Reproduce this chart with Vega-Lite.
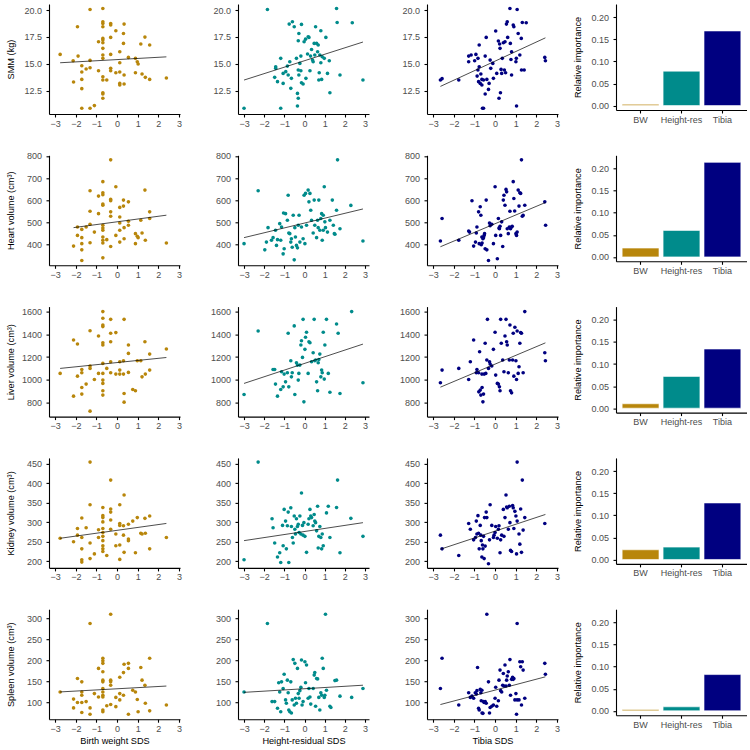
{
"$schema":"https://vega.github.io/schema/vega-lite/v6.json",
"background":"white",
"padding":{"left":5,"top":4,"right":0,"bottom":0},
"config":{"font":"Liberation Sans","view":{"stroke":null},
"axis":{"domainColor":"#000","domainWidth":1.1,"tickColor":"#000","tickWidth":1.1,"tickSize":3,"labelColor":"#4D4D4D","labelFontSize":9,"titleFontSize":9.2,"titleFontWeight":"normal","titleColor":"#000","grid":false,"labelFont":"Liberation Sans","titleFont":"Liberation Sans"},
"axisX":{"labelPadding":2,"titlePadding":3,"labelFlush":false},
"axisY":{"labelPadding":4.5}},
"datasets":{
"S1":[{"x":-2.76,"y":15.88},{"x":-2.11,"y":13.31},{"x":-2.13,"y":15.29},{"x":-1.92,"y":18.45},{"x":-1.89,"y":15.72},{"x":-1.71,"y":14.82},{"x":-1.71,"y":14.24},{"x":-1.71,"y":13.55},{"x":-1.71,"y":12.69},{"x":-1.71,"y":10.86},{"x":-1.5,"y":14.52},{"x":-1.31,"y":20.06},{"x":-1.31,"y":15.32},{"x":-1.31,"y":14.64},{"x":-1.31,"y":10.86},{"x":-1.1,"y":11.11},{"x":-0.9,"y":14.36},{"x":-0.9,"y":17.06},{"x":-0.69,"y":20.15},{"x":-0.69,"y":18.92},{"x":-0.69,"y":18.76},{"x":-0.69,"y":18.45},{"x":-0.69,"y":17.37},{"x":-0.69,"y":17.21},{"x":-0.69,"y":16.96},{"x":-0.69,"y":16.44},{"x":-0.69,"y":15.82},{"x":-0.69,"y":15.51},{"x":-0.69,"y":13.8},{"x":-0.69,"y":13.49},{"x":-0.69,"y":12.31},{"x":-0.69,"y":12.19},{"x":-0.69,"y":11.79},{"x":-0.5,"y":13.49},{"x":-0.31,"y":18.76},{"x":-0.31,"y":18.61},{"x":-0.31,"y":17.46},{"x":-0.31,"y":15.88},{"x":-0.31,"y":14.58},{"x":-0.31,"y":14.36},{"x":-0.06,"y":18.08},{"x":-0.06,"y":14.17},{"x":0.13,"y":16.13},{"x":0.13,"y":15.1},{"x":0.13,"y":14.24},{"x":0.13,"y":13.18},{"x":0.13,"y":13.03},{"x":0.31,"y":16.9},{"x":0.31,"y":17.83},{"x":0.34,"y":18.7},{"x":0.34,"y":13.96},{"x":0.34,"y":13.12},{"x":0.55,"y":15.6},{"x":0.89,"y":14.17},{"x":0.89,"y":15.51},{"x":0.98,"y":15.2},{"x":1.02,"y":14.98},{"x":1.15,"y":16.84},{"x":1.21,"y":14.05},{"x":1.35,"y":17.49},{"x":1.37,"y":13.74},{"x":1.58,"y":16.75},{"x":1.58,"y":13.55},{"x":2.39,"y":13.68}],
"S2":[{"x":-3.0,"y":10.86},{"x":-1.84,"y":20.06},{"x":-1.48,"y":13.74},{"x":-1.43,"y":14.73},{"x":-1.43,"y":14.58},{"x":-1.34,"y":13.34},{"x":-1.18,"y":15.51},{"x":-1.18,"y":10.86},{"x":-1.06,"y":13.18},{"x":-1.06,"y":14.11},{"x":-0.93,"y":14.27},{"x":-0.85,"y":14.79},{"x":-0.81,"y":13.96},{"x":-0.76,"y":18.7},{"x":-0.73,"y":15.2},{"x":-0.68,"y":12.72},{"x":-0.65,"y":13.65},{"x":-0.6,"y":18.92},{"x":-0.51,"y":18.45},{"x":-0.4,"y":15.51},{"x":-0.35,"y":12.25},{"x":-0.31,"y":11.79},{"x":-0.35,"y":11.08},{"x":-0.31,"y":14.42},{"x":-0.31,"y":17.15},{"x":-0.28,"y":17.83},{"x":-0.28,"y":13.96},{"x":-0.23,"y":15.04},{"x":-0.18,"y":15.72},{"x":-0.15,"y":18.67},{"x":-0.18,"y":14.36},{"x":-0.15,"y":13.24},{"x":-0.07,"y":13.12},{"x":-0.02,"y":17.06},{"x":0.05,"y":17.3},{"x":0.07,"y":13.65},{"x":0.15,"y":15.91},{"x":0.18,"y":17.52},{"x":0.22,"y":17.46},{"x":0.27,"y":14.36},{"x":0.3,"y":15.72},{"x":0.35,"y":16.34},{"x":0.4,"y":15.35},{"x":0.43,"y":15.2},{"x":0.48,"y":16.9},{"x":0.51,"y":15.82},{"x":0.55,"y":18.45},{"x":0.6,"y":16.9},{"x":0.65,"y":16.13},{"x":0.68,"y":16.75},{"x":0.71,"y":13.49},{"x":0.73,"y":14.17},{"x":0.76,"y":15.82},{"x":0.81,"y":18.08},{"x":0.81,"y":15.1},{"x":0.85,"y":13.55},{"x":0.88,"y":15.66},{"x":0.98,"y":15.51},{"x":1.06,"y":17.46},{"x":1.14,"y":14.11},{"x":1.23,"y":15.29},{"x":1.26,"y":12.31},{"x":1.59,"y":20.15},{"x":1.62,"y":18.85},{"x":1.76,"y":13.96},{"x":2.37,"y":18.82},{"x":2.9,"y":13.49}],
"S3":[{"x":-2.65,"y":13.49},{"x":-2.57,"y":13.62},{"x":-1.76,"y":13.49},{"x":-1.28,"y":15.2},{"x":-1.28,"y":15.72},{"x":-1.16,"y":15.82},{"x":-0.99,"y":15.29},{"x":-0.93,"y":15.88},{"x":-0.87,"y":13.86},{"x":-0.83,"y":15.51},{"x":-0.83,"y":14.42},{"x":-0.8,"y":13.34},{"x":-0.77,"y":16.75},{"x":-0.77,"y":14.73},{"x":-0.72,"y":13.18},{"x":-0.69,"y":14.05},{"x":-0.64,"y":13.55},{"x":-0.64,"y":13.03},{"x":-0.61,"y":10.86},{"x":-0.56,"y":10.86},{"x":-0.56,"y":13.49},{"x":-0.48,"y":12.19},{"x":-0.48,"y":15.72},{"x":-0.43,"y":17.46},{"x":-0.4,"y":13.55},{"x":-0.32,"y":12.62},{"x":-0.29,"y":13.18},{"x":-0.24,"y":15.35},{"x":-0.21,"y":14.58},{"x":-0.11,"y":15.04},{"x":-0.08,"y":13.65},{"x":0.03,"y":18.05},{"x":0.08,"y":14.11},{"x":0.16,"y":17.12},{"x":0.19,"y":11.79},{"x":0.22,"y":16.84},{"x":0.24,"y":16.44},{"x":0.26,"y":12.31},{"x":0.29,"y":14.48},{"x":0.32,"y":14.11},{"x":0.35,"y":15.51},{"x":0.4,"y":16.96},{"x":0.45,"y":14.42},{"x":0.48,"y":17.06},{"x":0.51,"y":14.17},{"x":0.55,"y":18.7},{"x":0.59,"y":18.92},{"x":0.61,"y":17.46},{"x":0.72,"y":20.15},{"x":0.74,"y":16.9},{"x":0.77,"y":15.41},{"x":0.8,"y":16.13},{"x":0.8,"y":13.96},{"x":0.88,"y":18.61},{"x":0.91,"y":18.45},{"x":1.01,"y":15.2},{"x":1.03,"y":15.51},{"x":1.04,"y":11.08},{"x":1.07,"y":20.06},{"x":1.12,"y":17.83},{"x":1.2,"y":15.82},{"x":1.27,"y":17.37},{"x":1.28,"y":14.42},{"x":1.32,"y":18.85},{"x":1.41,"y":14.42},{"x":1.51,"y":18.82},{"x":2.41,"y":15.6},{"x":2.44,"y":15.29}],
"H1":[{"x":-2.11,"y":394},{"x":-1.92,"y":480},{"x":-1.92,"y":442},{"x":-1.71,"y":469},{"x":-1.71,"y":432},{"x":-1.71,"y":405},{"x":-1.71,"y":377},{"x":-1.71,"y":329},{"x":-1.5,"y":480},{"x":-1.31,"y":643},{"x":-1.31,"y":551},{"x":-1.31,"y":492},{"x":-1.31,"y":409},{"x":-1.1,"y":457},{"x":-0.9,"y":540},{"x":-0.9,"y":619},{"x":-0.69,"y":684},{"x":-0.69,"y":634},{"x":-0.69,"y":625},{"x":-0.69,"y":583},{"x":-0.69,"y":578},{"x":-0.69,"y":488},{"x":-0.69,"y":475},{"x":-0.69,"y":465},{"x":-0.69,"y":435},{"x":-0.69,"y":420},{"x":-0.69,"y":408},{"x":-0.69,"y":341},{"x":-0.5,"y":423},{"x":-0.31,"y":782},{"x":-0.31,"y":604},{"x":-0.31,"y":598},{"x":-0.31,"y":548},{"x":-0.31,"y":528},{"x":-0.31,"y":392},{"x":-0.06,"y":661},{"x":-0.06,"y":442},{"x":0.13,"y":568},{"x":0.13,"y":525},{"x":0.13,"y":498},{"x":0.13,"y":465},{"x":0.13,"y":412},{"x":0.31,"y":601},{"x":0.31,"y":574},{"x":0.34,"y":477},{"x":0.34,"y":427},{"x":0.55,"y":593},{"x":0.55,"y":506},{"x":0.55,"y":488},{"x":0.89,"y":450},{"x":0.89,"y":405},{"x":0.98,"y":438},{"x":1.02,"y":432},{"x":1.15,"y":510},{"x":1.21,"y":453},{"x":1.35,"y":646},{"x":1.37,"y":420},{"x":1.58,"y":548},{"x":1.58,"y":518},{"x":2.39,"y":408}],
"H2":[{"x":-3.0,"y":405},{"x":-2.3,"y":643},{"x":-1.97,"y":377},{"x":-1.89,"y":412},{"x":-1.81,"y":477},{"x":-1.64,"y":420},{"x":-1.56,"y":432},{"x":-1.44,"y":465},{"x":-1.39,"y":397},{"x":-1.34,"y":423},{"x":-1.23,"y":495},{"x":-1.18,"y":420},{"x":-1.14,"y":480},{"x":-1.06,"y":359},{"x":-1.04,"y":543},{"x":-1.01,"y":382},{"x":-0.94,"y":540},{"x":-0.85,"y":510},{"x":-0.81,"y":623},{"x":-0.78,"y":453},{"x":-0.73,"y":450},{"x":-0.68,"y":412},{"x":-0.65,"y":427},{"x":-0.61,"y":389},{"x":-0.56,"y":533},{"x":-0.51,"y":332},{"x":-0.48,"y":477},{"x":-0.45,"y":435},{"x":-0.4,"y":397},{"x":-0.35,"y":386},{"x":-0.31,"y":488},{"x":-0.27,"y":533},{"x":-0.23,"y":412},{"x":-0.15,"y":480},{"x":-0.07,"y":427},{"x":-0.02,"y":623},{"x":0.02,"y":405},{"x":0.05,"y":631},{"x":0.1,"y":488},{"x":0.18,"y":646},{"x":0.22,"y":593},{"x":0.27,"y":631},{"x":0.31,"y":555},{"x":0.35,"y":510},{"x":0.43,"y":453},{"x":0.48,"y":601},{"x":0.51,"y":488},{"x":0.6,"y":432},{"x":0.65,"y":510},{"x":0.68,"y":477},{"x":0.71,"y":601},{"x":0.76,"y":465},{"x":0.81,"y":518},{"x":0.85,"y":540},{"x":0.88,"y":420},{"x":0.93,"y":533},{"x":0.93,"y":465},{"x":0.98,"y":661},{"x":1.01,"y":503},{"x":1.04,"y":477},{"x":1.14,"y":457},{"x":1.26,"y":510},{"x":1.38,"y":601},{"x":1.43,"y":488},{"x":1.48,"y":450},{"x":1.51,"y":447},{"x":1.59,"y":555},{"x":1.64,"y":782},{"x":1.76,"y":472},{"x":2.3,"y":577},{"x":2.9,"y":417}],
"H3":[{"x":-2.65,"y":417},{"x":-2.57,"y":518},{"x":-1.76,"y":420},{"x":-1.28,"y":462},{"x":-1.24,"y":457},{"x":-1.12,"y":598},{"x":-1.04,"y":394},{"x":-0.95,"y":412},{"x":-0.91,"y":453},{"x":-0.88,"y":480},{"x":-0.8,"y":548},{"x":-0.77,"y":405},{"x":-0.72,"y":571},{"x":-0.69,"y":533},{"x":-0.67,"y":400},{"x":-0.64,"y":435},{"x":-0.63,"y":408},{"x":-0.59,"y":427},{"x":-0.56,"y":432},{"x":-0.53,"y":442},{"x":-0.51,"y":450},{"x":-0.48,"y":382},{"x":-0.43,"y":601},{"x":-0.4,"y":377},{"x":-0.32,"y":329},{"x":-0.27,"y":498},{"x":-0.24,"y":486},{"x":-0.16,"y":492},{"x":-0.08,"y":405},{"x":0,"y":661},{"x":0.03,"y":442},{"x":0.11,"y":337},{"x":0.16,"y":518},{"x":0.19,"y":475},{"x":0.21,"y":472},{"x":0.24,"y":483},{"x":0.27,"y":442},{"x":0.32,"y":503},{"x":0.37,"y":392},{"x":0.4,"y":601},{"x":0.43,"y":623},{"x":0.48,"y":578},{"x":0.53,"y":649},{"x":0.56,"y":638},{"x":0.59,"y":472},{"x":0.64,"y":450},{"x":0.69,"y":480},{"x":0.72,"y":551},{"x":0.75,"y":472},{"x":0.8,"y":480},{"x":0.83,"y":483},{"x":0.88,"y":684},{"x":0.91,"y":608},{"x":0.95,"y":552},{"x":1.01,"y":450},{"x":1.04,"y":442},{"x":1.07,"y":457},{"x":1.12,"y":646},{"x":1.16,"y":574},{"x":1.2,"y":634},{"x":1.24,"y":631},{"x":1.28,"y":782},{"x":1.32,"y":528},{"x":1.36,"y":533},{"x":1.44,"y":578},{"x":2.41,"y":593},{"x":2.45,"y":488}],
"L1":[{"x":-2.76,"y":1056},{"x":-2.11,"y":1350},{"x":-2.11,"y":856},{"x":-1.92,"y":1315},{"x":-1.92,"y":1032},{"x":-1.71,"y":1091},{"x":-1.71,"y":1062},{"x":-1.71,"y":932},{"x":-1.71,"y":874},{"x":-1.5,"y":962},{"x":-1.31,"y":1432},{"x":-1.31,"y":1121},{"x":-1.31,"y":1100},{"x":-1.31,"y":724},{"x":-1.1,"y":1003},{"x":-0.9,"y":1385},{"x":-0.9,"y":1056},{"x":-0.69,"y":1600},{"x":-0.69,"y":1541},{"x":-0.69,"y":1482},{"x":-0.69,"y":1468},{"x":-0.69,"y":1326},{"x":-0.69,"y":1306},{"x":-0.69,"y":1144},{"x":-0.69,"y":1056},{"x":-0.69,"y":997},{"x":-0.69,"y":968},{"x":-0.69,"y":903},{"x":-0.69,"y":865},{"x":-0.5,"y":1100},{"x":-0.31,"y":1532},{"x":-0.31,"y":1409},{"x":-0.31,"y":1335},{"x":-0.31,"y":1159},{"x":-0.31,"y":1062},{"x":-0.06,"y":1415},{"x":-0.06,"y":1050},{"x":0.13,"y":1159},{"x":0.13,"y":1085},{"x":0.13,"y":1050},{"x":0.31,"y":1168},{"x":0.31,"y":1050},{"x":0.34,"y":1532},{"x":0.34,"y":879},{"x":0.34,"y":803},{"x":0.55,"y":1306},{"x":0.55,"y":1232},{"x":0.55,"y":1065},{"x":0.76,"y":915},{"x":0.89,"y":903},{"x":0.98,"y":1168},{"x":1.15,"y":1168},{"x":1.21,"y":1026},{"x":1.35,"y":1335},{"x":1.37,"y":1050},{"x":1.58,"y":1226},{"x":1.58,"y":1085},{"x":2.39,"y":1271}],
"L2":[{"x":-3.0,"y":871},{"x":-2.3,"y":1429},{"x":-1.56,"y":1091},{"x":-1.48,"y":1091},{"x":-1.44,"y":962},{"x":-1.34,"y":856},{"x":-1.18,"y":915},{"x":-1.14,"y":1071},{"x":-1.06,"y":938},{"x":-1.01,"y":1050},{"x":-0.94,"y":982},{"x":-0.85,"y":1062},{"x":-0.81,"y":1409},{"x":-0.78,"y":938},{"x":-0.68,"y":1168},{"x":-0.65,"y":1026},{"x":-0.61,"y":1062},{"x":-0.51,"y":1474},{"x":-0.48,"y":871},{"x":-0.4,"y":1150},{"x":-0.35,"y":1129},{"x":-0.31,"y":997},{"x":-0.28,"y":1056},{"x":-0.23,"y":1129},{"x":-0.18,"y":1306},{"x":-0.15,"y":1344},{"x":-0.1,"y":1197},{"x":-0.07,"y":1532},{"x":-0.03,"y":806},{"x":0.02,"y":1268},{"x":0.05,"y":1374},{"x":0.1,"y":1418},{"x":0.18,"y":1056},{"x":0.22,"y":1335},{"x":0.27,"y":1326},{"x":0.35,"y":1159},{"x":0.43,"y":1238},{"x":0.48,"y":1532},{"x":0.51,"y":1168},{"x":0.55,"y":1174},{"x":0.6,"y":982},{"x":0.65,"y":903},{"x":0.68,"y":1150},{"x":0.71,"y":1179},{"x":0.76,"y":1226},{"x":0.81,"y":1026},{"x":0.85,"y":1085},{"x":0.88,"y":1062},{"x":0.93,"y":1418},{"x":0.98,"y":1006},{"x":1.01,"y":1306},{"x":1.09,"y":1532},{"x":1.18,"y":1056},{"x":1.26,"y":890},{"x":1.59,"y":1491},{"x":1.67,"y":1409},{"x":1.76,"y":879},{"x":2.34,"y":1600},{"x":2.9,"y":974}],
"L3":[{"x":-2.65,"y":974},{"x":-2.57,"y":1085},{"x":-1.76,"y":1100},{"x":-1.28,"y":1003},{"x":-1.2,"y":1159},{"x":-1.04,"y":1350},{"x":-0.91,"y":1062},{"x":-0.88,"y":1091},{"x":-0.8,"y":1062},{"x":-0.79,"y":894},{"x":-0.75,"y":1247},{"x":-0.72,"y":909},{"x":-0.69,"y":865},{"x":-0.64,"y":1050},{"x":-0.63,"y":932},{"x":-0.59,"y":806},{"x":-0.56,"y":874},{"x":-0.53,"y":1050},{"x":-0.48,"y":1321},{"x":-0.45,"y":1056},{"x":-0.4,"y":1174},{"x":-0.37,"y":1532},{"x":-0.32,"y":1100},{"x":-0.27,"y":1159},{"x":-0.24,"y":1138},{"x":-0.16,"y":1121},{"x":-0.08,"y":1268},{"x":0,"y":1418},{"x":0.03,"y":1041},{"x":0.11,"y":968},{"x":0.16,"y":962},{"x":0.21,"y":938},{"x":0.24,"y":903},{"x":0.27,"y":1532},{"x":0.3,"y":1321},{"x":0.37,"y":1174},{"x":0.43,"y":1071},{"x":0.48,"y":1385},{"x":0.53,"y":1532},{"x":0.56,"y":1335},{"x":0.59,"y":1306},{"x":0.64,"y":1062},{"x":0.69,"y":1174},{"x":0.72,"y":1482},{"x":0.75,"y":903},{"x":0.8,"y":885},{"x":0.85,"y":1174},{"x":0.88,"y":1409},{"x":0.91,"y":1032},{"x":0.96,"y":1462},{"x":1.01,"y":1168},{"x":1.04,"y":1003},{"x":1.07,"y":1429},{"x":1.12,"y":1056},{"x":1.16,"y":1115},{"x":1.2,"y":1321},{"x":1.24,"y":1415},{"x":1.28,"y":1409},{"x":1.36,"y":1062},{"x":1.44,"y":1600},{"x":2.41,"y":1238},{"x":2.44,"y":1168}],
"K1":[{"x":-2.76,"y":259},{"x":-2.11,"y":250},{"x":-1.92,"y":284},{"x":-1.92,"y":267},{"x":-1.71,"y":311},{"x":-1.71,"y":261},{"x":-1.71,"y":232},{"x":-1.71,"y":204},{"x":-1.71,"y":198},{"x":-1.5,"y":286},{"x":-1.31,"y":454},{"x":-1.31,"y":345},{"x":-1.31,"y":247},{"x":-1.31,"y":207},{"x":-1.1,"y":219},{"x":-0.9,"y":281},{"x":-0.9,"y":261},{"x":-0.69,"y":338},{"x":-0.69,"y":317},{"x":-0.69,"y":312},{"x":-0.69,"y":301},{"x":-0.69,"y":284},{"x":-0.69,"y":274},{"x":-0.69,"y":264},{"x":-0.69,"y":253},{"x":-0.69,"y":240},{"x":-0.69,"y":232},{"x":-0.69,"y":225},{"x":-0.5,"y":215},{"x":-0.31,"y":408},{"x":-0.31,"y":334},{"x":-0.31,"y":326},{"x":-0.31,"y":306},{"x":-0.31,"y":282},{"x":-0.06,"y":240},{"x":-0.06,"y":270},{"x":0.13,"y":345},{"x":0.13,"y":297},{"x":0.13,"y":292},{"x":0.13,"y":242},{"x":0.13,"y":205},{"x":0.31,"y":291},{"x":0.31,"y":267},{"x":0.34,"y":370},{"x":0.34,"y":223},{"x":0.55,"y":295},{"x":0.55,"y":257},{"x":0.55,"y":253},{"x":0.76,"y":303},{"x":0.89,"y":222},{"x":0.98,"y":312},{"x":1.15,"y":272},{"x":1.21,"y":270},{"x":1.35,"y":310},{"x":1.37,"y":272},{"x":1.58,"y":316},{"x":1.58,"y":232},{"x":2.39,"y":261}],
"K2":[{"x":-3.0,"y":204},{"x":-2.3,"y":454},{"x":-1.61,"y":309},{"x":-1.56,"y":286},{"x":-1.48,"y":247},{"x":-1.34,"y":211},{"x":-1.23,"y":222},{"x":-1.18,"y":197},{"x":-1.09,"y":292},{"x":-1.06,"y":240},{"x":-1.01,"y":333},{"x":-0.94,"y":303},{"x":-0.9,"y":232},{"x":-0.85,"y":291},{"x":-0.81,"y":326},{"x":-0.78,"y":197},{"x":-0.68,"y":337},{"x":-0.65,"y":289},{"x":-0.6,"y":261},{"x":-0.56,"y":247},{"x":-0.51,"y":316},{"x":-0.48,"y":282},{"x":-0.45,"y":270},{"x":-0.4,"y":309},{"x":-0.35,"y":289},{"x":-0.31,"y":295},{"x":-0.27,"y":274},{"x":-0.23,"y":316},{"x":-0.18,"y":270},{"x":-0.15,"y":375},{"x":-0.1,"y":292},{"x":-0.07,"y":267},{"x":-0.03,"y":299},{"x":0.02,"y":264},{"x":0.1,"y":223},{"x":0.18,"y":295},{"x":0.22,"y":309},{"x":0.27,"y":333},{"x":0.31,"y":316},{"x":0.35,"y":312},{"x":0.43,"y":291},{"x":0.48,"y":320},{"x":0.51,"y":303},{"x":0.55,"y":299},{"x":0.6,"y":278},{"x":0.65,"y":341},{"x":0.68,"y":234},{"x":0.71,"y":264},{"x":0.76,"y":289},{"x":0.81,"y":261},{"x":0.85,"y":232},{"x":0.88,"y":270},{"x":0.93,"y":240},{"x":1.09,"y":324},{"x":1.18,"y":341},{"x":1.26,"y":261},{"x":1.59,"y":338},{"x":1.64,"y":408},{"x":1.76,"y":222},{"x":2.3,"y":310},{"x":2.9,"y":264}],
"K3":[{"x":-2.65,"y":267},{"x":-2.57,"y":232},{"x":-1.76,"y":215},{"x":-1.28,"y":297},{"x":-1.2,"y":282},{"x":-1.04,"y":255},{"x":-0.95,"y":261},{"x":-0.91,"y":303},{"x":-0.88,"y":270},{"x":-0.83,"y":317},{"x":-0.8,"y":272},{"x":-0.77,"y":232},{"x":-0.72,"y":292},{"x":-0.69,"y":267},{"x":-0.67,"y":253},{"x":-0.64,"y":211},{"x":-0.61,"y":242},{"x":-0.59,"y":232},{"x":-0.56,"y":264},{"x":-0.53,"y":207},{"x":-0.51,"y":312},{"x":-0.48,"y":239},{"x":-0.43,"y":326},{"x":-0.4,"y":312},{"x":-0.32,"y":194},{"x":-0.27,"y":255},{"x":-0.24,"y":345},{"x":-0.16,"y":292},{"x":-0.08,"y":261},{"x":-0.05,"y":267},{"x":0,"y":274},{"x":0.03,"y":289},{"x":0.11,"y":259},{"x":0.16,"y":282},{"x":0.19,"y":291},{"x":0.24,"y":222},{"x":0.27,"y":255},{"x":0.32,"y":267},{"x":0.4,"y":333},{"x":0.43,"y":264},{"x":0.48,"y":312},{"x":0.53,"y":370},{"x":0.56,"y":339},{"x":0.59,"y":337},{"x":0.64,"y":282},{"x":0.69,"y":341},{"x":0.72,"y":299},{"x":0.75,"y":228},{"x":0.8,"y":225},{"x":0.85,"y":343},{"x":0.88,"y":337},{"x":0.91,"y":284},{"x":0.96,"y":328},{"x":1.01,"y":316},{"x":1.04,"y":219},{"x":1.07,"y":303},{"x":1.07,"y":454},{"x":1.16,"y":270},{"x":1.2,"y":244},{"x":1.24,"y":334},{"x":1.28,"y":223},{"x":1.32,"y":408},{"x":1.36,"y":280},{"x":1.44,"y":312},{"x":2.41,"y":297}],
"P1":[{"x":-2.76,"y":125},{"x":-2.11,"y":108},{"x":-2.11,"y":87},{"x":-1.92,"y":157},{"x":-1.92,"y":100},{"x":-1.71,"y":149},{"x":-1.71,"y":125},{"x":-1.71,"y":117},{"x":-1.71,"y":100},{"x":-1.71,"y":76},{"x":-1.5,"y":102},{"x":-1.31,"y":288},{"x":-1.31,"y":87},{"x":-1.31,"y":72},{"x":-1.1,"y":121},{"x":-0.9,"y":181},{"x":-0.9,"y":113},{"x":-0.69,"y":205},{"x":-0.69,"y":199},{"x":-0.69,"y":193},{"x":-0.69,"y":173},{"x":-0.69,"y":153},{"x":-0.69,"y":149},{"x":-0.69,"y":133},{"x":-0.69,"y":125},{"x":-0.69,"y":117},{"x":-0.69,"y":113},{"x":-0.69,"y":82},{"x":-0.69,"y":78},{"x":-0.5,"y":92},{"x":-0.31,"y":310},{"x":-0.31,"y":153},{"x":-0.31,"y":149},{"x":-0.31,"y":141},{"x":-0.31,"y":95},{"x":-0.06,"y":112},{"x":-0.06,"y":90},{"x":0.13,"y":160},{"x":0.13,"y":121},{"x":0.13,"y":106},{"x":0.31,"y":171},{"x":0.31,"y":117},{"x":0.34,"y":191},{"x":0.55,"y":193},{"x":0.55,"y":181},{"x":0.55,"y":72},{"x":0.76,"y":129},{"x":0.89,"y":125},{"x":0.98,"y":107},{"x":1.02,"y":78},{"x":1.15,"y":183},{"x":1.21,"y":153},{"x":1.35,"y":141},{"x":1.37,"y":98},{"x":1.58,"y":205},{"x":1.58,"y":80},{"x":2.39,"y":94}],
"P2":[{"x":-3.0,"y":125},{"x":-1.84,"y":288},{"x":-1.61,"y":102},{"x":-1.48,"y":102},{"x":-1.34,"y":86},{"x":-1.28,"y":147},{"x":-1.23,"y":125},{"x":-1.18,"y":78},{"x":-1.14,"y":149},{"x":-1.06,"y":133},{"x":-1.01,"y":167},{"x":-0.94,"y":106},{"x":-0.9,"y":98},{"x":-0.85,"y":153},{"x":-0.81,"y":123},{"x":-0.78,"y":82},{"x":-0.73,"y":78},{"x":-0.68,"y":149},{"x":-0.65,"y":75},{"x":-0.61,"y":106},{"x":-0.56,"y":202},{"x":-0.51,"y":94},{"x":-0.48,"y":193},{"x":-0.45,"y":110},{"x":-0.4,"y":98},{"x":-0.35,"y":181},{"x":-0.31,"y":121},{"x":-0.27,"y":110},{"x":-0.23,"y":128},{"x":-0.18,"y":136},{"x":-0.15,"y":201},{"x":-0.12,"y":94},{"x":-0.07,"y":102},{"x":0.02,"y":197},{"x":0.05,"y":147},{"x":0.1,"y":189},{"x":0.18,"y":110},{"x":0.22,"y":133},{"x":0.27,"y":113},{"x":0.31,"y":96},{"x":0.43,"y":133},{"x":0.48,"y":165},{"x":0.51,"y":171},{"x":0.55,"y":91},{"x":0.6,"y":157},{"x":0.65,"y":156},{"x":0.71,"y":112},{"x":0.76,"y":82},{"x":0.81,"y":123},{"x":0.85,"y":117},{"x":0.88,"y":205},{"x":0.93,"y":181},{"x":0.98,"y":112},{"x":1.01,"y":117},{"x":1.04,"y":310},{"x":1.09,"y":129},{"x":1.26,"y":91},{"x":1.31,"y":88},{"x":1.51,"y":152},{"x":1.59,"y":153},{"x":1.76,"y":115},{"x":2.34,"y":112},{"x":2.9,"y":133}],
"P3":[{"x":-2.65,"y":133},{"x":-2.57,"y":205},{"x":-1.76,"y":94},{"x":-1.28,"y":123},{"x":-1.2,"y":112},{"x":-1.12,"y":115},{"x":-1.04,"y":110},{"x":-0.96,"y":123},{"x":-0.91,"y":120},{"x":-0.88,"y":128},{"x":-0.85,"y":183},{"x":-0.8,"y":86},{"x":-0.77,"y":82},{"x":-0.72,"y":131},{"x":-0.69,"y":123},{"x":-0.67,"y":104},{"x":-0.64,"y":129},{"x":-0.63,"y":75},{"x":-0.59,"y":74},{"x":-0.56,"y":102},{"x":-0.53,"y":100},{"x":-0.48,"y":102},{"x":-0.43,"y":98},{"x":-0.4,"y":310},{"x":-0.32,"y":149},{"x":-0.27,"y":75},{"x":-0.24,"y":88},{"x":-0.16,"y":91},{"x":-0.08,"y":94},{"x":0,"y":110},{"x":0.03,"y":136},{"x":0.08,"y":91},{"x":0.16,"y":104},{"x":0.19,"y":153},{"x":0.24,"y":177},{"x":0.27,"y":128},{"x":0.32,"y":125},{"x":0.37,"y":141},{"x":0.4,"y":169},{"x":0.43,"y":139},{"x":0.48,"y":189},{"x":0.53,"y":139},{"x":0.56,"y":153},{"x":0.59,"y":163},{"x":0.64,"y":173},{"x":0.69,"y":141},{"x":0.72,"y":202},{"x":0.75,"y":117},{"x":0.8,"y":155},{"x":0.85,"y":160},{"x":0.88,"y":155},{"x":0.91,"y":157},{"x":0.96,"y":106},{"x":1.01,"y":121},{"x":1.04,"y":72},{"x":1.07,"y":106},{"x":1.07,"y":288},{"x":1.16,"y":106},{"x":1.2,"y":197},{"x":1.24,"y":185},{"x":1.28,"y":94},{"x":1.32,"y":197},{"x":1.36,"y":177},{"x":1.44,"y":110},{"x":2.41,"y":193},{"x":2.44,"y":167}],
"bars":[{"o":"S","p":"BW","v":0.003},{"o":"S","p":"Height-res","v":0.078},{"o":"S","p":"Tibia","v":0.169},{"o":"H","p":"BW","v":0.02},{"o":"H","p":"Height-res","v":0.06},{"o":"H","p":"Tibia","v":0.214},{"o":"L","p":"BW","v":0.01},{"o":"L","p":"Height-res","v":0.072},{"o":"L","p":"Tibia","v":0.134},{"o":"K","p":"BW","v":0.022},{"o":"K","p":"Height-res","v":0.028},{"o":"K","p":"Tibia","v":0.128},{"o":"P","p":"BW","v":0.003},{"o":"P","p":"Height-res","v":0.009},{"o":"P","p":"Tibia","v":0.082}]
},
"columns":4,
"spacing":{"row":41.3,"column":58},
"bounds":"flush",
"concat":[
{"width":131,"height":110,"encoding":{"x":{"field":"x","type":"quantitative","scale":{"domain":[-3.3,3.05],"nice":false,"zero":false},"axis":{"values":[-3,-2,-1,0,1,2,3],"format":"d","title":null}},"y":{"field":"y","type":"quantitative","scale":{"domain":[10.33,20.57],"nice":false,"zero":false},"axis":{"values":[12.5,15,17.5,20],"format":".1f","title":"SMM (kg)","titleX":-34}}},
 "layer":[{"data":{"name":"S1"},"mark":{"type":"circle","size":13,"opacity":1,"color":"#B8860B"}},{"data":{"values":[{"x":-2.76,"y":15.1},{"x":2.39,"y":15.65}]},"mark":{"type":"line","color":"#000","strokeWidth":0.7}}]},
{"width":131,"height":110,"encoding":{"x":{"field":"x","type":"quantitative","scale":{"domain":[-3.3,3.2],"nice":false,"zero":false},"axis":{"values":[-3,-2,-1,0,1,2,3],"format":"d","title":null}},"y":{"field":"y","type":"quantitative","scale":{"domain":[10.33,20.57],"nice":false,"zero":false},"axis":{"values":[12.5,15,17.5,20],"format":".1f","title":null}}},
 "layer":[{"data":{"name":"S2"},"mark":{"type":"circle","size":13,"opacity":1,"color":"#008B8B"}},{"data":{"values":[{"x":-3.0,"y":13.49},{"x":2.9,"y":17.03}]},"mark":{"type":"line","color":"#000","strokeWidth":0.7}}]},
{"width":131,"height":110,"encoding":{"x":{"field":"x","type":"quantitative","scale":{"domain":[-3.3,3.05],"nice":false,"zero":false},"axis":{"values":[-3,-2,-1,0,1,2,3],"format":"d","title":null}},"y":{"field":"y","type":"quantitative","scale":{"domain":[10.33,20.57],"nice":false,"zero":false},"axis":{"values":[12.5,15,17.5,20],"format":".1f","title":null}}},
 "layer":[{"data":{"name":"S3"},"mark":{"type":"circle","size":13,"opacity":1,"color":"#000080"}},{"data":{"values":[{"x":-2.65,"y":12.9},{"x":2.44,"y":17.42}]},"mark":{"type":"line","color":"#000","strokeWidth":0.7}}]},
{"width":131,"height":106,"data":{"name":"bars"},"transform":[{"filter":"datum.o=='S'"}],"mark":{"type":"bar","stroke":"white","strokeWidth":0.6},
 "encoding":{"x":{"field":"p","type":"nominal","sort":["BW","Height-res","Tibia"],"scale":{"paddingInner":0.1,"paddingOuter":0.15},"axis":{"title":null,"labelAngle":0}},"y":{"field":"v","type":"quantitative","scale":{"domain":[-0.01,0.23],"nice":false,"zero":false},"axis":{"values":[0,0.05,0.1,0.15,0.2],"format":".2f","title":"Relative importance","titleX":-34}},"color":{"field":"p","type":"nominal","scale":{"domain":["BW","Height-res","Tibia"],"range":["#B8860B","#008B8B","#000080"]},"legend":null}}},

{"width":131,"height":110,"encoding":{"x":{"field":"x","type":"quantitative","scale":{"domain":[-3.3,3.05],"nice":false,"zero":false},"axis":{"values":[-3,-2,-1,0,1,2,3],"format":"d","title":null}},"y":{"field":"y","type":"quantitative","scale":{"domain":[307.5,802.5],"nice":false,"zero":false},"axis":{"values":[400,500,600,700,800],"format":"d","title":"Heart volume (cm³)","titleX":-34}}},
 "layer":[{"data":{"name":"H1"},"mark":{"type":"circle","size":13,"opacity":1,"color":"#B8860B"}},{"data":{"values":[{"x":-2.11,"y":477},{"x":2.39,"y":533}]},"mark":{"type":"line","color":"#000","strokeWidth":0.7}}]},
{"width":131,"height":110,"encoding":{"x":{"field":"x","type":"quantitative","scale":{"domain":[-3.3,3.2],"nice":false,"zero":false},"axis":{"values":[-3,-2,-1,0,1,2,3],"format":"d","title":null}},"y":{"field":"y","type":"quantitative","scale":{"domain":[307.5,802.5],"nice":false,"zero":false},"axis":{"values":[400,500,600,700,800],"format":"d","title":null}}},
 "layer":[{"data":{"name":"H2"},"mark":{"type":"circle","size":13,"opacity":1,"color":"#008B8B"}},{"data":{"values":[{"x":-3.0,"y":432},{"x":2.9,"y":561}]},"mark":{"type":"line","color":"#000","strokeWidth":0.7}}]},
{"width":131,"height":110,"encoding":{"x":{"field":"x","type":"quantitative","scale":{"domain":[-3.3,3.05],"nice":false,"zero":false},"axis":{"values":[-3,-2,-1,0,1,2,3],"format":"d","title":null}},"y":{"field":"y","type":"quantitative","scale":{"domain":[307.5,802.5],"nice":false,"zero":false},"axis":{"values":[400,500,600,700,800],"format":"d","title":null}}},
 "layer":[{"data":{"name":"H3"},"mark":{"type":"circle","size":13,"opacity":1,"color":"#000080"}},{"data":{"values":[{"x":-2.65,"y":391},{"x":2.44,"y":590}]},"mark":{"type":"line","color":"#000","strokeWidth":0.7}}]},
{"width":131,"height":106,"data":{"name":"bars"},"transform":[{"filter":"datum.o=='H'"}],"mark":{"type":"bar","stroke":"white","strokeWidth":0.6},
 "encoding":{"x":{"field":"p","type":"nominal","sort":["BW","Height-res","Tibia"],"scale":{"paddingInner":0.1,"paddingOuter":0.15},"axis":{"title":null,"labelAngle":0}},"y":{"field":"v","type":"quantitative","scale":{"domain":[-0.01,0.23],"nice":false,"zero":false},"axis":{"values":[0,0.05,0.1,0.15,0.2],"format":".2f","title":"Relative importance","titleX":-34}},"color":{"field":"p","type":"nominal","scale":{"domain":["BW","Height-res","Tibia"],"range":["#B8860B","#008B8B","#000080"]},"legend":null}}},

{"width":131,"height":110,"encoding":{"x":{"field":"x","type":"quantitative","scale":{"domain":[-3.3,3.05],"nice":false,"zero":false},"axis":{"values":[-3,-2,-1,0,1,2,3],"format":"d","title":null}},"y":{"field":"y","type":"quantitative","scale":{"domain":[676,1644],"nice":false,"zero":false},"axis":{"values":[800,1000,1200,1400,1600],"format":"d","title":"Liver volume (cm³)","titleX":-34}}},
 "layer":[{"data":{"name":"L1"},"mark":{"type":"circle","size":13,"opacity":1,"color":"#B8860B"}},{"data":{"values":[{"x":-2.76,"y":1100},{"x":2.39,"y":1196}]},"mark":{"type":"line","color":"#000","strokeWidth":0.7}}]},
{"width":131,"height":110,"encoding":{"x":{"field":"x","type":"quantitative","scale":{"domain":[-3.3,3.2],"nice":false,"zero":false},"axis":{"values":[-3,-2,-1,0,1,2,3],"format":"d","title":null}},"y":{"field":"y","type":"quantitative","scale":{"domain":[676,1644],"nice":false,"zero":false},"axis":{"values":[800,1000,1200,1400,1600],"format":"d","title":null}}},
 "layer":[{"data":{"name":"L2"},"mark":{"type":"circle","size":13,"opacity":1,"color":"#008B8B"}},{"data":{"values":[{"x":-3.0,"y":968},{"x":2.9,"y":1314}]},"mark":{"type":"line","color":"#000","strokeWidth":0.7}}]},
{"width":131,"height":110,"encoding":{"x":{"field":"x","type":"quantitative","scale":{"domain":[-3.3,3.05],"nice":false,"zero":false},"axis":{"values":[-3,-2,-1,0,1,2,3],"format":"d","title":null}},"y":{"field":"y","type":"quantitative","scale":{"domain":[676,1644],"nice":false,"zero":false},"axis":{"values":[800,1000,1200,1400,1600],"format":"d","title":null}}},
 "layer":[{"data":{"name":"L3"},"mark":{"type":"circle","size":13,"opacity":1,"color":"#000080"}},{"data":{"values":[{"x":-2.65,"y":935},{"x":2.44,"y":1325}]},"mark":{"type":"line","color":"#000","strokeWidth":0.7}}]},
{"width":131,"height":106,"data":{"name":"bars"},"transform":[{"filter":"datum.o=='L'"}],"mark":{"type":"bar","stroke":"white","strokeWidth":0.6},
 "encoding":{"x":{"field":"p","type":"nominal","sort":["BW","Height-res","Tibia"],"scale":{"paddingInner":0.1,"paddingOuter":0.15},"axis":{"title":null,"labelAngle":0}},"y":{"field":"v","type":"quantitative","scale":{"domain":[-0.01,0.23],"nice":false,"zero":false},"axis":{"values":[0,0.05,0.1,0.15,0.2],"format":".2f","title":"Relative importance","titleX":-34}},"color":{"field":"p","type":"nominal","scale":{"domain":["BW","Height-res","Tibia"],"range":["#B8860B","#008B8B","#000080"]},"legend":null}}},

{"width":131,"height":110,"encoding":{"x":{"field":"x","type":"quantitative","scale":{"domain":[-3.3,3.05],"nice":false,"zero":false},"axis":{"values":[-3,-2,-1,0,1,2,3],"format":"d","title":null}},"y":{"field":"y","type":"quantitative","scale":{"domain":[183.2,464.8],"nice":false,"zero":false},"axis":{"values":[200,250,300,350,400,450],"format":"d","title":"Kidney volume (cm³)","titleX":-34}}},
 "layer":[{"data":{"name":"K1"},"mark":{"type":"circle","size":13,"opacity":1,"color":"#B8860B"}},{"data":{"values":[{"x":-2.76,"y":259},{"x":2.39,"y":297}]},"mark":{"type":"line","color":"#000","strokeWidth":0.7}}]},
{"width":131,"height":110,"encoding":{"x":{"field":"x","type":"quantitative","scale":{"domain":[-3.3,3.2],"nice":false,"zero":false},"axis":{"values":[-3,-2,-1,0,1,2,3],"format":"d","title":null}},"y":{"field":"y","type":"quantitative","scale":{"domain":[183.2,464.8],"nice":false,"zero":false},"axis":{"values":[200,250,300,350,400,450],"format":"d","title":null}}},
 "layer":[{"data":{"name":"K2"},"mark":{"type":"circle","size":13,"opacity":1,"color":"#008B8B"}},{"data":{"values":[{"x":-3.0,"y":253},{"x":2.9,"y":299}]},"mark":{"type":"line","color":"#000","strokeWidth":0.7}}]},
{"width":131,"height":110,"encoding":{"x":{"field":"x","type":"quantitative","scale":{"domain":[-3.3,3.05],"nice":false,"zero":false},"axis":{"values":[-3,-2,-1,0,1,2,3],"format":"d","title":null}},"y":{"field":"y","type":"quantitative","scale":{"domain":[183.2,464.8],"nice":false,"zero":false},"axis":{"values":[200,250,300,350,400,450],"format":"d","title":null}}},
 "layer":[{"data":{"name":"K3"},"mark":{"type":"circle","size":13,"opacity":1,"color":"#000080"}},{"data":{"values":[{"x":-2.65,"y":231},{"x":2.44,"y":320}]},"mark":{"type":"line","color":"#000","strokeWidth":0.7}}]},
{"width":131,"height":106,"data":{"name":"bars"},"transform":[{"filter":"datum.o=='K'"}],"mark":{"type":"bar","stroke":"white","strokeWidth":0.6},
 "encoding":{"x":{"field":"p","type":"nominal","sort":["BW","Height-res","Tibia"],"scale":{"paddingInner":0.1,"paddingOuter":0.15},"axis":{"title":null,"labelAngle":0}},"y":{"field":"v","type":"quantitative","scale":{"domain":[-0.01,0.23],"nice":false,"zero":false},"axis":{"values":[0,0.05,0.1,0.15,0.2],"format":".2f","title":"Relative importance","titleX":-34}},"color":{"field":"p","type":"nominal","scale":{"domain":["BW","Height-res","Tibia"],"range":["#B8860B","#008B8B","#000080"]},"legend":null}}},

{"width":131,"height":110,"encoding":{"x":{"field":"x","type":"quantitative","scale":{"domain":[-3.3,3.05],"nice":false,"zero":false},"axis":{"values":[-3,-2,-1,0,1,2,3],"format":"d","title":"Birth weight SDS"}},"y":{"field":"y","type":"quantitative","scale":{"domain":[60.1,321.9],"nice":false,"zero":false},"axis":{"values":[100,150,200,250,300],"format":"d","title":"Spleen volume (cm³)","titleX":-34}}},
 "layer":[{"data":{"name":"P1"},"mark":{"type":"circle","size":13,"opacity":1,"color":"#B8860B"}},{"data":{"values":[{"x":-2.76,"y":125},{"x":2.39,"y":139}]},"mark":{"type":"line","color":"#000","strokeWidth":0.7}}]},
{"width":131,"height":110,"encoding":{"x":{"field":"x","type":"quantitative","scale":{"domain":[-3.3,3.2],"nice":false,"zero":false},"axis":{"values":[-3,-2,-1,0,1,2,3],"format":"d","title":"Height-residual SDS"}},"y":{"field":"y","type":"quantitative","scale":{"domain":[60.1,321.9],"nice":false,"zero":false},"axis":{"values":[100,150,200,250,300],"format":"d","title":null}}},
 "layer":[{"data":{"name":"P2"},"mark":{"type":"circle","size":13,"opacity":1,"color":"#008B8B"}},{"data":{"values":[{"x":-3.0,"y":124},{"x":2.9,"y":141}]},"mark":{"type":"line","color":"#000","strokeWidth":0.7}}]},
{"width":131,"height":110,"encoding":{"x":{"field":"x","type":"quantitative","scale":{"domain":[-3.3,3.05],"nice":false,"zero":false},"axis":{"values":[-3,-2,-1,0,1,2,3],"format":"d","title":"Tibia SDS"}},"y":{"field":"y","type":"quantitative","scale":{"domain":[60.1,321.9],"nice":false,"zero":false},"axis":{"values":[100,150,200,250,300],"format":"d","title":null}}},
 "layer":[{"data":{"name":"P3"},"mark":{"type":"circle","size":13,"opacity":1,"color":"#000080"}},{"data":{"values":[{"x":-2.65,"y":95},{"x":2.44,"y":161}]},"mark":{"type":"line","color":"#000","strokeWidth":0.7}}]},
{"width":131,"height":106,"data":{"name":"bars"},"transform":[{"filter":"datum.o=='P'"}],"mark":{"type":"bar","stroke":"white","strokeWidth":0.6},
 "encoding":{"x":{"field":"p","type":"nominal","sort":["BW","Height-res","Tibia"],"scale":{"paddingInner":0.1,"paddingOuter":0.15},"axis":{"title":null,"labelAngle":0}},"y":{"field":"v","type":"quantitative","scale":{"domain":[-0.01,0.23],"nice":false,"zero":false},"axis":{"values":[0,0.05,0.1,0.15,0.2],"format":".2f","title":"Relative importance","titleX":-34}},"color":{"field":"p","type":"nominal","scale":{"domain":["BW","Height-res","Tibia"],"range":["#B8860B","#008B8B","#000080"]},"legend":null}}}
]
}
